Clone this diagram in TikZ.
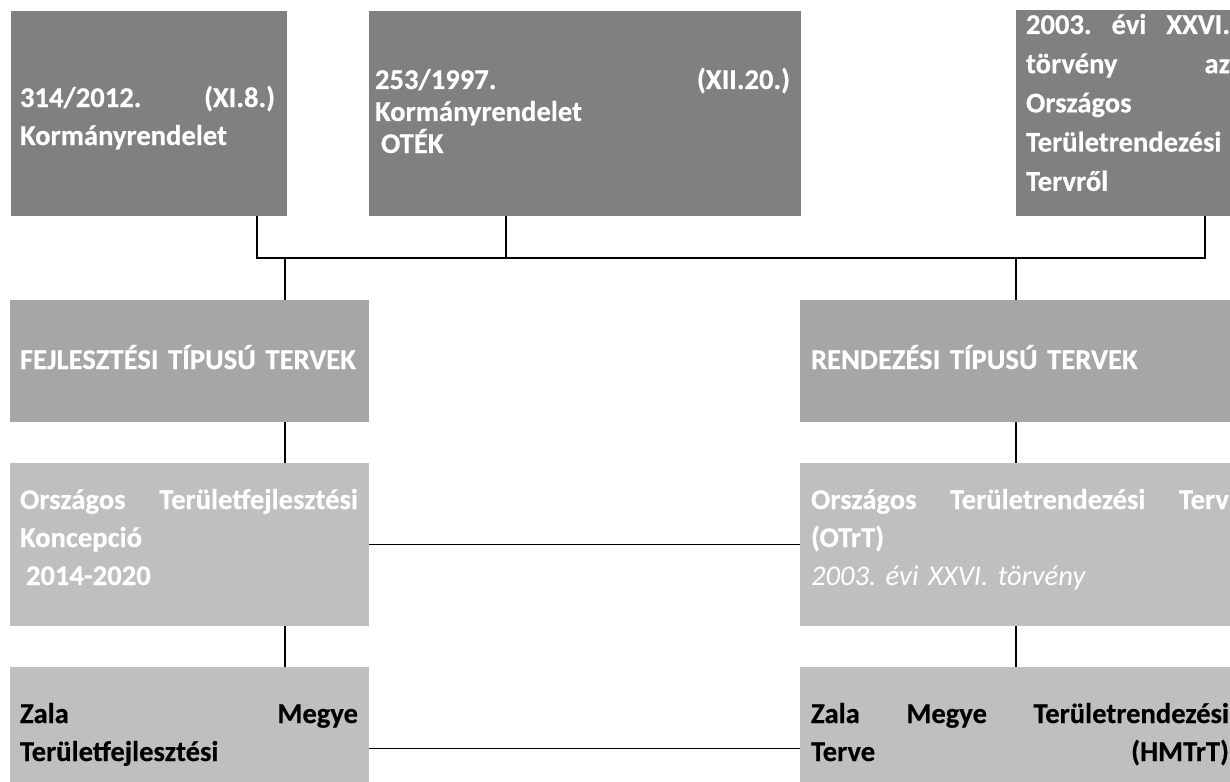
\documentclass[tikz,border=0pt]{standalone}
\usepackage{fontspec}
\setmainfont{Carlito}[BoldFeatures={FakeBold=0.4}]
\frenchspacing
\definecolor{topgray}{HTML}{808080}
\definecolor{midgray}{HTML}{A6A6A6}
\definecolor{lightgray2}{HTML}{BFBFBF}
\tikzset{
  box/.style={draw=none, inner sep=0pt, outer sep=0pt, anchor=north west},
  txt/.style={anchor=base west, inner sep=0pt, outer sep=0pt, align=left,
              font=\bfseries\fontsize{28.6}{38}\selectfont},
  conn/.style={line width=1.6pt, black},
}
\begin{document}
\begin{tikzpicture}[x=1pt,y=-1pt]
\useasboundingbox (0,0) rectangle (1230,781);
\fill[white] (0,0) rectangle (1230,781);
\clip (0,0) rectangle (1230,781);
% boxes
\node[box, fill=topgray, minimum width=276, minimum height=205] (b1) at (11,11) {};
\node[box, fill=topgray, minimum width=432, minimum height=205] (b2) at (369,11) {};
\node[box, fill=topgray, minimum width=240, minimum height=206] (b3) at (1016,10) {};
\node[box, fill=midgray, minimum width=359, minimum height=122] (fej) at (10,300) {};
\node[box, fill=midgray, minimum width=450, minimum height=122] (ren) at (800,300) {};
\node[box, fill=lightgray2, minimum width=359, minimum height=163] (otk) at (10,463) {};
\node[box, fill=lightgray2, minimum width=450, minimum height=163] (otrt) at (800,463) {};
\node[box, fill=lightgray2, minimum width=359, minimum height=163] (zl) at (10,667) {};
\node[box, fill=lightgray2, minimum width=450, minimum height=163] (zr) at (800,667) {};
% texts
\node[txt, text=white, text width=255] (t1) at (20,107)
  {314/2012.\hfill(XI.8.)\\Kormányrendelet};
\node[txt, text=white, text width=415, font=\bfseries\fontsize{28.6}{32}\selectfont] (t2) at (375,89)
  {253/1997.\hfill(XII.20.)\\Kormányrendelet\\\hspace*{6pt}OTÉK};
\node[txt, text=white, text width=204, font=\bfseries\fontsize{28.6}{39.2}\selectfont] (t3) at (1026,34)
  {2003.\hfill évi\hfill XXVI.\\törvény\hfill az\\Országos\\Területrendezési\\Tervről};
\node[txt, text=white, text width=338] (fejt) at (20,369) {FEJLESZTÉSI TÍPUSÚ TERVEK};
\node[txt, text=white, text width=418] (rent) at (811,369) {RENDEZÉSI TÍPUSÚ TERVEK};
\node[txt, text=white, text width=338] (otkt) at (20,509)
  {Országos\hfill Területfejlesztési\\Koncepció\\\hspace*{6pt}2014-2020};
\node[txt, text=white, text width=418] (otrtt) at (811,509)
  {Országos\hfill Területrendezési\hfill Terv\\(OTrT)\\{\mdseries\itshape 2003. évi XXVI. törvény}};
\node[txt, text=black, text width=338] (zlt) at (20,723)
  {Zala\hfill Megye\\Területfejlesztési};
\node[txt, text=black, text width=418] (zrt) at (811,723)
  {Zala\hfill Megye\hfill Területrendezési\\Terve\hfill(HMTrT)};
% connectors
\coordinate (j1) at (257,258);
\coordinate (j2) at (506,258);
\coordinate (j3) at (1205,258);
\coordinate (j4) at (285,258);
\coordinate (j5) at (1016,258);
\draw[conn] (j1 |- b1.south) -- (j1) -- (j3) -- (j3 |- b3.south);
\draw[conn] (j2 |- b2.south) -- (j2);
\draw[conn] (j4) -- (j4 |- fej.north);
\draw[conn] (j5) -- (j5 |- ren.north);
\draw[conn] (j4 |- fej.south) -- (j4 |- otk.north);
\draw[conn] (j4 |- otk.south) -- (j4 |- zl.north);
\draw[conn] (j5 |- ren.south) -- (j5 |- otrt.north);
\draw[conn] (j5 |- otrt.south) -- (j5 |- zr.north);
\draw[conn] (otk.east) -- (otrt.west);
\draw[conn] (zl.east) -- (zr.west);
\end{tikzpicture}
\end{document}
